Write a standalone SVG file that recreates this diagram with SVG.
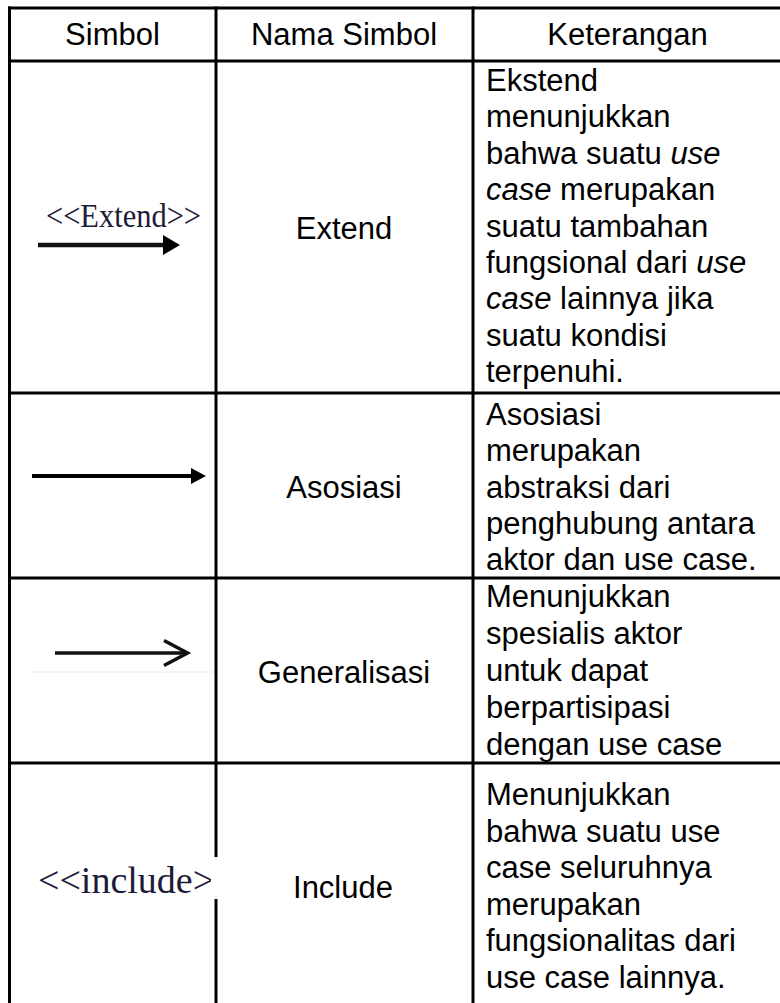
<svg xmlns="http://www.w3.org/2000/svg" width="780" height="1003" viewBox="0 0 780 1003">
<style>
.t{font-family:"Liberation Sans",Arial,sans-serif;font-size:31px;fill:#000}
.c{text-anchor:middle}
.i{font-style:italic}
.serif{font-family:"Liberation Serif","Times New Roman",serif;fill:#1c1c38}
.grid line{stroke:#000;stroke-width:3}
</style>
<defs>
<clipPath id="incClip"><rect x="0" y="840" width="211" height="80"/></clipPath>
</defs>
<rect x="0" y="0" width="780" height="1003" fill="#fff"/>
<g id="grid" class="grid">
<line x1="8" y1="8" x2="780" y2="8"/>
<line x1="8" y1="61" x2="780" y2="61"/>
<line x1="8" y1="393" x2="780" y2="393"/>
<line x1="8" y1="578" x2="780" y2="578"/>
<line x1="8" y1="763" x2="780" y2="763"/>
<line x1="9.5" y1="6.5" x2="9.5" y2="1003"/>
<line x1="216" y1="6.5" x2="216" y2="857"/>
<line x1="216" y1="899" x2="216" y2="1003"/>
<line x1="473" y1="6.5" x2="473" y2="1003"/>
</g>
<g id="header">
<text class="t c" x="112.5" y="45">Simbol</text>
<text class="t c" x="344" y="45">Nama Simbol</text>
<text class="t c" x="627.5" y="45">Keterangan</text>
</g>
<g id="row-extend">
<text class="serif" x="46" y="227" font-size="33" textLength="155" lengthAdjust="spacingAndGlyphs">&lt;&lt;Extend&gt;&gt;</text>
<line x1="38" y1="245" x2="165" y2="245" stroke="#111" stroke-width="4.5"/>
<polygon points="163,235 180,245 163,255" fill="#000"/>
<text class="t c" x="344" y="239">Extend</text>
<text class="t" x="486" y="91">Ekstend</text>
<text class="t" x="486" y="127.4">menunjukkan</text>
<text class="t" x="486" y="163.8">bahwa suatu <tspan class="i">use</tspan></text>
<text class="t" x="486" y="200.2"><tspan class="i">case</tspan> merupakan</text>
<text class="t" x="486" y="236.6">suatu tambahan</text>
<text class="t" x="486" y="273">fungsional dari <tspan class="i">use</tspan></text>
<text class="t" x="486" y="309.4"><tspan class="i">case</tspan> lainnya jika</text>
<text class="t" x="486" y="345.8">suatu kondisi</text>
<text class="t" x="486" y="382.2">terpenuhi.</text>
</g>
<g id="row-asosiasi">
<line x1="32" y1="476" x2="194" y2="476" stroke="#000" stroke-width="4"/>
<polygon points="191,468 206,476 191,484" fill="#000"/>
<text class="t c" x="344" y="498">Asosiasi</text>
<text class="t" x="486" y="425">Asosiasi</text>
<text class="t" x="486" y="461.25">merupakan</text>
<text class="t" x="486" y="497.5">abstraksi dari</text>
<text class="t" x="486" y="533.75">penghubung antara</text>
<text class="t" x="486" y="570">aktor dan use case.</text>
</g>
<g id="row-generalisasi">
<line x1="32" y1="672" x2="213" y2="672" stroke="#ebebeb" stroke-width="1"/>
<line x1="55" y1="653" x2="187" y2="653" stroke="#111" stroke-width="3.5"/>
<polyline points="164,640.5 187.5,653 164,665.5" fill="none" stroke="#111" stroke-width="3.5" stroke-linejoin="miter"/>
<text class="t c" x="344" y="683">Generalisasi</text>
<text class="t" x="486" y="607">Menunjukkan</text>
<text class="t" x="486" y="644">spesialis aktor</text>
<text class="t" x="486" y="681">untuk dapat</text>
<text class="t" x="486" y="718">berpartisipasi</text>
<text class="t" x="486" y="755">dengan use case</text>
</g>
<g id="row-include">
<text class="serif" x="38" y="893" font-size="38" fill="#000" clip-path="url(#incClip)">&lt;&lt;include&gt;</text>
<text class="t c" x="343" y="898">Include</text>
<text class="t" x="486" y="805">Menunjukkan</text>
<text class="t" x="486" y="841.6">bahwa suatu use</text>
<text class="t" x="486" y="878.2">case seluruhnya</text>
<text class="t" x="486" y="914.8">merupakan</text>
<text class="t" x="486" y="951.4">fungsionalitas dari</text>
<text class="t" x="486" y="988">use case lainnya.</text>
</g>
</svg>
